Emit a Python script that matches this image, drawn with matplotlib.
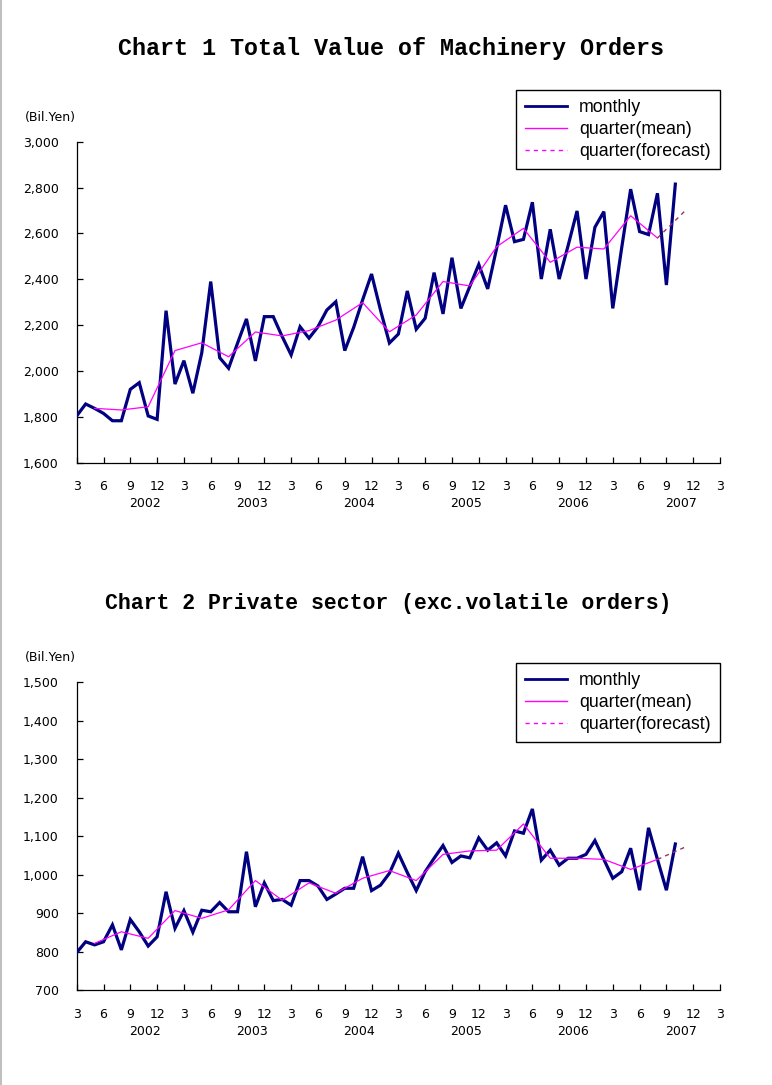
import matplotlib
matplotlib.use("Agg")
import matplotlib.pyplot as plt
from matplotlib.lines import Line2D
from matplotlib.ticker import FuncFormatter

# ---------------- data ----------------
# month index 0 = March 2002
tick_labels = ["3", "6", "9", "12"] * 6 + ["3"]
years = ["2002", "2003", "2004", "2005", "2006", "2007"]

total_monthly = [
    1804, 1856, 1837, 1815, 1783, 1783, 1920, 1949, 1804, 1789,
    2263, 1943, 2045, 1903, 2080, 2390, 2058, 2012, 2121, 2227,
    2044, 2237, 2237, 2150, 2070, 2193, 2143, 2193, 2266, 2302,
    2089, 2190, 2310, 2423, 2266, 2122, 2161, 2349, 2182, 2230,
    2429, 2249, 2494, 2273, 2369, 2465, 2358, 2535, 2723, 2564,
    2574, 2736, 2401, 2618, 2401, 2547, 2698, 2401, 2627, 2695,
    2273, 2538, 2793, 2608, 2595, 2775, 2375, 2815]
total_quarter = [
    1837, 1830, 1844, 2089, 2123, 2062, 2170, 2153, 2176, 2222, 2298,
    2171, 2244, 2390, 2371, 2542, 2622, 2474, 2540, 2532, 2677, 2580]
total_forecast = [2580, 2695]

private_monthly = [
    798, 826, 818, 826, 870, 805, 884, 852, 815, 839,
    956, 861, 907, 851, 908, 904, 928, 904, 904, 1060,
    917, 979, 933, 936, 921, 985, 985, 971, 936, 950,
    965, 965, 1047, 959, 973, 1004, 1056, 1006, 959, 1008,
    1043, 1076, 1032, 1049, 1044, 1096, 1064, 1083, 1049, 1114,
    1108, 1171, 1038, 1064, 1025, 1043, 1043, 1053, 1089, 1040,
    991, 1008, 1069, 960, 1122, 1040, 960, 1080]
private_quarter = [
    822, 852, 835, 907, 887, 909, 985, 934, 979, 952, 991,
    1011, 985, 1053, 1062, 1064, 1132, 1043, 1043, 1040, 1014, 1040]
private_forecast = [1040, 1071]

series_names = ["monthly", "quarter(mean)", "quarter(forecast)"]

# ---------------- style ----------------
W, H = 772, 1085
fig = plt.figure(figsize=(W / 100, H / 100), dpi=100)
fig.patch.set_facecolor("white")

NAVY = "#000080"
MAG = "#ff00ff"
FORE = "#993366"


def make_chart(top, bottom, monthly, quarter, forecast, ylim, ystep,
               title, title_x, title_y, title_size, unit_y, legend_anchor):
    left, right = 76.7, 720.0
    ax = fig.add_axes([left / W, 1 - bottom / H, (right - left) / W, (bottom - top) / H])
    mx = list(range(len(monthly)))
    qx = [2 + 3 * k for k in range(len(quarter))]
    fx = [qx[-1], qx[-1] + 3]
    ax.plot(mx, monthly, color=NAVY, lw=2.3, solid_joinstyle="miter", zorder=3)
    ax.plot(qx, quarter, color=MAG, lw=0.9, zorder=4)
    ax.plot(fx, forecast, color=FORE, lw=1.0, ls=(0, (3, 3)), zorder=4)

    ax.set_xlim(0, 72)
    ax.set_ylim(*ylim)
    ax.set_xticks(range(0, 73, 3))
    ax.set_xticklabels(tick_labels)
    ax.set_yticks(range(ylim[0], ylim[1] + 1, ystep))
    ax.yaxis.set_major_formatter(FuncFormatter(lambda v, p: f"{int(v):,}"))
    for s in ["top", "right"]:
        ax.spines[s].set_visible(False)
    for s in ["left", "bottom"]:
        ax.spines[s].set_linewidth(0.9)
        ax.spines[s].set_color("black")
    ax.tick_params(direction="in", length=4, width=0.9, colors="black",
                   labelsize=9, pad=13)
    ax.tick_params(axis="x", pad=12.5)
    ax.set_facecolor("none")

    for k, yr in enumerate(years):
        ax.annotate(yr, xy=(7.6 + 12 * k, 0), xycoords=("data", "axes fraction"),
                    xytext=(0, -29.5), textcoords="offset points",
                    ha="center", va="center", fontsize=9)

    fig.text(title_x / W, 1 - title_y / H, title, ha="center", va="center",
             family=["Liberation Mono", "DejaVu Sans Mono"], fontweight="bold",
             fontsize=title_size)
    fig.text(25 / W, 1 - unit_y / H, "(Bil.Yen)", ha="left", va="center", fontsize=9)

    handles = [Line2D([], [], color=NAVY, lw=2.0),
               Line2D([], [], color=MAG, lw=1.0),
               Line2D([], [], color=MAG, lw=1.0, ls=(0, (3, 3)))]
    lx0, ly0 = legend_anchor
    leg = fig.legend(handles, series_names, loc="upper left",
                     bbox_to_anchor=(lx0 / W, 1 - ly0 / H),
                     bbox_transform=fig.transFigure,
                     prop={"family": ["Liberation Sans", "DejaVu Sans"], "size": 12.8},
                     frameon=True, fancybox=False, shadow=False,
                     borderpad=0.5, labelspacing=0.29, handlelength=2.35,
                     handletextpad=0.7, borderaxespad=0)
    fr = leg.get_frame()
    fr.set_edgecolor("black")
    fr.set_linewidth(1.0)
    fr.set_facecolor("white")
    fr.set_alpha(1)
    return ax


plt.rcParams["font.family"] = ["DejaVu Sans"]

make_chart(141.7, 462.7, total_monthly, total_quarter, total_forecast,
           (1600, 3000), 200, "Chart 1 Total Value of Machinery Orders", 391, 49, 16.8,
           117, (516, 90))
make_chart(682.3, 990.3, private_monthly, private_quarter, private_forecast,
           (700, 1500), 100, "Chart 2 Private sector (exc.volatile orders)", 388.5, 603, 15.5,
           657, (516, 663))

fig.add_artist(Line2D([0.5 / W, 0.5 / W], [0, 1], transform=fig.transFigure,
                      color="#c0c0c0", lw=1.5))

fig.savefig("out.png", dpi=100, facecolor="white")
